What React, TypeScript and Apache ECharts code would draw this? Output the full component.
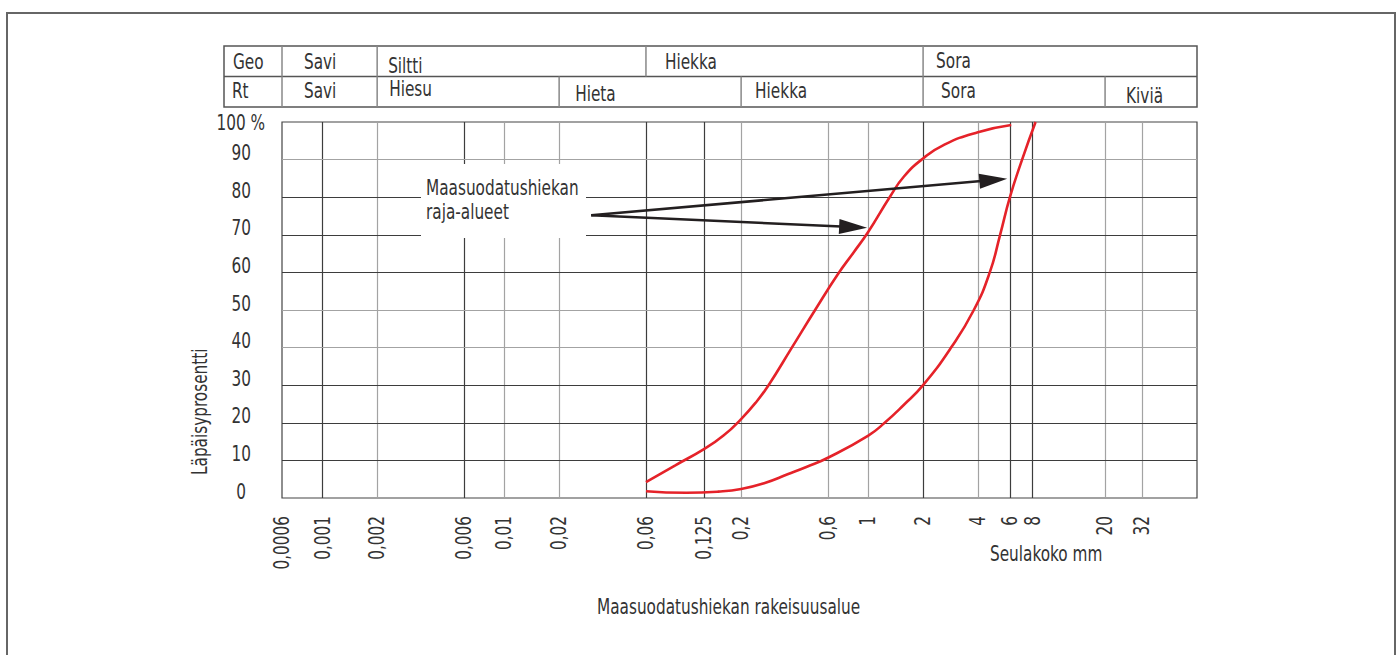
import React, { useEffect, useRef } from "react";
import * as echarts from "echarts";

const FONT = "'Liberation Sans Narrow', 'Arial Narrow', 'DejaVu Sans Condensed', Roboto, sans-serif";
const TEXT = "#333333";
const RED = "#e52229";
const DARK = "#3d3d3d";
const GRAY = "#a3a3a3";
const FS = 21;
const SX = 0.81;

// x axis (sieve size, mm) – log scale
const xMin = 0.0006;
const xMax = 64;
const xTickValues = [0.0006, 0.001, 0.002, 0.006, 0.01, 0.02, 0.06, 0.125, 0.2, 0.6, 1, 2, 4, 6, 8, 20, 32];
const xTickLabels = ["0,0006", "0,001", "0,002", "0,006", "0,01", "0,02", "0,06", "0,125", "0,2", "0,6", "1", "2", "4", "6", "8", "20", "32"];
const xGridValues = [0.001, 0.002, 0.006, 0.01, 0.02, 0.06, 0.125, 0.2, 0.6, 1, 2, 4, 6, 8, 20, 32];
const darkXLines = [0.001, 0.006, 0.06, 0.125, 2, 6, 8];

// y axis (passing percentage)
const yTickValues = [0, 10, 20, 30, 40, 50, 60, 70, 80, 90, 100];
const yTickLabels = ["0", "10", "20", "30", "40", "50", "60", "70", "80", "90", "100 %"];
const yGridValues = [10, 20, 30, 40, 50, 60, 70, 80, 90];
const grayYLines = [40, 50, 90];

// grading envelope of filter sand
const upperLimit: [number, number][] = [
  [0.06, 4.2], [0.087, 8.7], [0.125, 13], [0.16, 16.6], [0.2, 21], [0.24, 25.3], [0.283, 30],
  [0.38, 40], [0.51, 50], [0.68, 59.5], [0.83, 65.3], [1.0, 70.8], [1.31, 80], [1.57, 85.5],
  [2, 90.3], [2.62, 94], [4, 97.3], [6.1, 99.2],
];
const lowerLimit: [number, number][] = [
  [0.06, 1.8], [0.1, 1.4], [0.15, 1.7], [0.2, 2.4], [0.27, 4.0], [0.36, 6.3], [0.46, 8.3],
  [0.6, 10.7], [1, 16.6], [1.23, 20], [1.57, 24.8], [2, 30], [2.85, 40], [3.8, 50],
  [4.65, 60], [5.3, 70], [6.0, 80], [7.0, 90], [8.3, 100],
];

// classification table
const geoBounds = [0.0006, 0.002, 0.06, 2];
const geoNames = ["Savi", "Siltti", "Hiekka", "Sora"];
const rtBounds = [0.0006, 0.002, 0.02, 0.2, 2, 20];
const rtNames = ["Savi", "Hiesu", "Hieta", "Hiekka", "Sora", "Kiviä"];

// annotation
const annotationText = ["Maasuodatushiekan", "raja-alueet"];
const arrowFrom: [number, number] = [0.03, 75.2];
const arrowTips: [number, number][] = [[5.8, 84.9], [0.985, 71.9]];

const xAxisTitle = "Seulakoko mm";
const yAxisTitle = "Läpäisyprosentti";
const bottomTitle = "Maasuodatushiekan rakeisuusalue";

// layout offsets for the table texts (px)
const geoTextLayout = [[9, 61.5], [22, 61.5], [11, 65.5], [19, 61.5], [13, 61]];
const rtTextLayout = [[8, 91], [22, 91], [12, 88.5], [16, 93.5], [14, 91], [18, 91], [21, 96]];

export default function App() {
  const ref = useRef<HTMLDivElement>(null);

  useEffect(() => {
    const chart = echarts.init(ref.current!, null, { renderer: "svg" });

    const markData: any[] = [
      ...xGridValues.map((v) => ({
        xAxis: v,
        lineStyle: { color: darkXLines.includes(v) ? DARK : GRAY, width: 1.2, type: "solid" },
      })),
      ...yGridValues.map((v) => ({
        yAxis: v,
        lineStyle: { color: grayYLines.includes(v) ? GRAY : DARK, width: 1.2, type: "solid" },
      })),
    ];

    const curve = (name: string, data: [number, number][]) => ({
      type: "line",
      name,
      data,
      smooth: 0.5,
      showSymbol: false,
      z: 5,
      lineStyle: { color: RED, width: 2.6 },
      itemStyle: { color: RED },
    });

    const option: any = {
      animation: false,
      backgroundColor: "#ffffff",
      grid: {
        left: 282,
        top: 122,
        right: 1398 - 1197,
        bottom: 655 - 498,
        show: true,
        borderColor: "#444",
        borderWidth: 1.2,
        containLabel: false,
      },
      xAxis: {
        type: "log",
        logBase: 10,
        min: xMin,
        max: xMax,
        axisLine: { show: false },
        axisTick: { show: false },
        axisLabel: { show: false },
        splitLine: { show: false },
      },
      yAxis: {
        type: "value",
        min: 0,
        max: 100,
        interval: 10,
        axisLine: { show: false },
        axisTick: { show: false },
        splitLine: { show: false },
        axisLabel: { show: false },
      },
      series: [
        {
          ...curve("upper", upperLimit),
          markLine: {
            silent: true,
            precision: 10,
            symbol: ["none", "none"],
            label: { show: false },
            z: 1,
            data: markData,
          },
        },
        curve("lower", lowerLimit),
      ],
    };

    chart.setOption(option);

    const P = (x: number, y: number) => chart.convertToPixel({ gridIndex: 0 }, [x, y]) as number[];
    const right = P(xMax, 0)[0];
    const bottom = P(xMin, 0)[1];
    const tableLeft = 224;
    const rowTop = 46;
    const rowMid = 76.5;
    const rowBot = 107;

    const textStyle = { fontSize: FS, fontFamily: FONT, fill: TEXT };
    const txt = (text: string, x: number, y: number, extra: any = {}, style: any = {}) => ({
      type: "text",
      z: 3,
      x,
      y,
      scaleX: SX,
      ...extra,
      style: { ...textStyle, text, align: "left", verticalAlign: "middle", ...style },
    });

    const g: any[] = [];
    // outer frame
    g.push({
      type: "rect",
      z: 1,
      shape: { x: 7, y: 13, width: 1388, height: 720 },
      style: { fill: "none", stroke: "#666", lineWidth: 2 },
    });
    // table
    g.push({
      type: "rect",
      z: 2,
      shape: { x: tableLeft, y: rowTop, width: right - tableLeft, height: rowBot - rowTop },
      style: { fill: "none", stroke: "#555", lineWidth: 1.5 },
    });
    g.push({
      type: "line",
      z: 2,
      shape: { x1: tableLeft, y1: rowMid, x2: right, y2: rowMid },
      style: { stroke: "#555", lineWidth: 1.5 },
    });
    const geoStarts = [tableLeft, ...geoBounds.map((v) => P(v, 0)[0])];
    const rtStarts = [tableLeft, ...rtBounds.map((v) => P(v, 0)[0])];
    geoStarts.slice(1).forEach((x) =>
      g.push({ type: "line", z: 2, shape: { x1: x, y1: rowTop, x2: x, y2: rowMid }, style: { stroke: "#888", lineWidth: 1.5 } })
    );
    rtStarts.slice(1).forEach((x) =>
      g.push({ type: "line", z: 2, shape: { x1: x, y1: rowMid, x2: x, y2: rowBot }, style: { stroke: "#888", lineWidth: 1.5 } })
    );
    ["Geo", ...geoNames].forEach((t, i) => g.push(txt(t, geoStarts[i] + geoTextLayout[i][0], geoTextLayout[i][1])));
    ["Rt", ...rtNames].forEach((t, i) => g.push(txt(t, rtStarts[i] + rtTextLayout[i][0], rtTextLayout[i][1])));

    // x tick labels (rotated)
    xTickValues.forEach((v, i) => {
      const [x] = P(v, 0);
      g.push(txt(xTickLabels[i], x, bottom + 18, { rotation: Math.PI / 2 }, { align: "right" }));
    });
    // y tick labels
    yTickValues.forEach((v, i) => {
      const y = P(xMin, v)[1];
      if (v === 100) g.push(txt(yTickLabels[i], 265, y + 1, {}, { align: "right" }));
      else if (v === 0) g.push(txt(yTickLabels[i], 246, y - 6.5, {}, { align: "right" }));
      else g.push(txt(yTickLabels[i], 251, y - 6.5, {}, { align: "right" }));
    });

    // annotation box and text
    g.push({
      type: "rect",
      z: 20,
      shape: { x: 421, y: 164, width: 165, height: 74 },
      style: { fill: "#ffffff" },
    });
    g.push(
      txt(annotationText.join("\n"), 426, 176, { z: 21 }, { lineHeight: 24, verticalAlign: "top" })
    );
    // arrows
    const S = P(arrowFrom[0], arrowFrom[1]);
    arrowTips.forEach(([tx, ty]) => {
      const T = P(tx, ty);
      const dx = T[0] - S[0];
      const dy = T[1] - S[1];
      const len = Math.sqrt(dx * dx + dy * dy);
      const ux = dx / len;
      const uy = dy / len;
      const headLen = 28;
      const halfW = 7.5;
      const bx = T[0] - ux * headLen;
      const by = T[1] - uy * headLen;
      g.push({
        type: "line",
        z: 22,
        shape: { x1: S[0], y1: S[1], x2: bx + ux * 2, y2: by + uy * 2 },
        style: { stroke: "#231f20", lineWidth: 2.6 },
      });
      g.push({
        type: "polygon",
        z: 22,
        shape: {
          points: [
            [T[0], T[1]],
            [bx - uy * halfW, by + ux * halfW],
            [bx + uy * halfW, by - ux * halfW],
          ],
        },
        style: { fill: "#231f20" },
      });
    });

    // axis titles
    g.push(txt(yAxisTitle, 200, 475, { rotation: Math.PI / 2 }));
    g.push(txt(xAxisTitle, 990, 554));
    g.push(txt(bottomTitle, 597, 607));

    chart.setOption({ graphic: { elements: g } });

    return () => chart.dispose();
  }, []);

  return (
    <div
      ref={ref}
      style={{ position: "fixed", left: 0, top: 0, width: 1398, height: 655, background: "#ffffff" }}
    />
  );
}
